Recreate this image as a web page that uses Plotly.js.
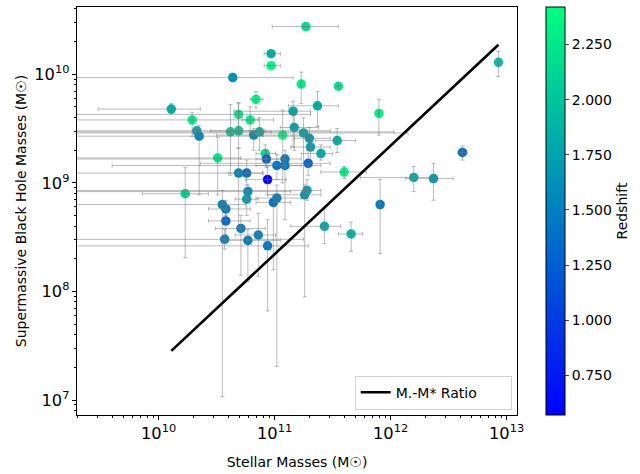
<!DOCTYPE html>
<html>
<head>
<meta charset="utf-8">
<script src="https://cdn.plot.ly/plotly-3.0.1.min.js"></script>
<style>html,body{margin:0;padding:0;background:#fff}#chart{width:640px;height:474px}</style>
</head>
<body>
<div id="chart"></div>
<script>
// log10 stellar masses (Msun)
const logStellarMass = [11.27,10.97,10.97,10.64,11.23,11.55,10.84,10.11,11.37,10.69,
  10.29,10.79,11.16,11.17,10.33,10.35,10.62,10.69,10.82,10.87,
  11.07,11.25,11.30,11.31,11.54,11.40,10.51,10.92,10.93,11.02,
  11.09,11.09,11.29,11.60,12.20,12.37,12.62,12.93,10.69,10.76,
  10.94,10.23,10.77,10.76,10.99,11.02,11.26,11.28,11.91,10.55,
  10.58,10.58,10.71,10.57,10.77,10.86,10.94,11.43,11.66,11.90];
// log10 black hole masses (Msun)
const logBHMass = [10.44,10.19,10.08,9.97,9.91,9.89,9.77,9.68,9.71,9.63,
  9.58,9.58,9.66,9.51,9.48,9.43,9.47,9.48,9.44,9.47,
  9.44,9.46,9.41,9.33,9.39,9.27,9.23,9.27,9.22,9.16,
  9.22,9.16,9.18,9.10,9.05,9.04,9.28,10.11,9.09,9.09,
  9.03,8.90,8.92,8.85,8.82,8.86,8.89,8.93,8.80,8.80,
  8.76,8.65,8.58,8.48,8.47,8.52,8.42,8.60,8.53,9.64];
const redshift = [2.15,1.85,2.35,1.60,2.30,2.20,2.35,1.85,1.85,2.25,
  2.30,2.30,1.80,1.75,1.80,1.55,2.10,2.05,1.60,1.90,
  2.42,1.80,1.70,1.75,1.85,1.80,2.25,2.20,1.30,1.35,
  1.45,1.45,1.30,2.35,1.85,1.70,1.40,1.95,1.55,1.40,
  0.57,2.10,1.60,1.75,1.35,1.50,1.70,1.75,1.45,1.55,
  1.50,1.30,1.50,1.55,1.50,1.55,1.45,1.85,1.90,2.30];
// error bounds (log10)
const logStellarLow = [10.98,10.91,10.91,9.0,11.23,11.55,10.79,9.48,11.12,9.0,
  9.0,10.72,10.65,11.05,9.0,9.0,9.0,10.45,10.50,10.79,
  10.90,9.0,11.17,11.14,11.35,11.23,9.0,10.84,9.0,9.60,
  10.84,10.84,10.36,11.40,11.74,12.13,12.58,12.93,10.60,9.0,
  10.75,9.86,9.0,10.66,10.84,10.84,10.94,9.0,11.91,9.0,
  10.43,10.43,10.49,9.0,10.58,10.66,9.0,11.14,11.55,11.90];
const logStellarHigh = [11.55,11.05,11.05,11.16,11.23,11.55,10.90,10.36,11.55,11.31,
  10.99,10.86,11.31,11.38,11.48,11.31,12.03,10.92,10.90,10.97,
  11.23,12.15,11.48,11.48,11.70,11.50,10.71,11.01,11.08,11.40,
  11.23,11.23,11.48,11.79,12.35,12.54,12.66,12.93,10.90,10.90,
  11.10,10.43,11.14,10.86,11.14,11.23,11.40,11.40,11.91,10.75,
  10.79,10.79,10.92,11.25,11.05,11.01,11.29,11.57,11.76,11.90];
const logBHLow = [10.44,10.19,10.08,9.97,9.73,9.89,9.69,9.64,9.52,9.52,
  9.43,9.48,9.33,9.30,9.48,8.89,9.07,9.32,9.30,9.30,
  9.00,8.93,9.30,9.21,9.28,9.21,8.89,9.16,9.14,9.03,
  9.14,8.66,9.07,9.04,8.92,8.84,9.21,9.98,8.59,8.98,
  8.89,8.31,8.84,8.70,8.20,7.31,7.95,8.84,8.35,7.03,
  8.70,8.52,8.15,8.39,8.09,8.14,7.82,8.44,8.37,9.44];
const logBHHigh = [10.44,10.19,10.08,9.97,10.02,9.89,9.84,9.73,9.84,9.73,
  9.65,9.70,9.75,9.62,9.48,9.53,9.72,9.74,9.50,9.60,
  9.67,9.60,9.51,9.39,9.50,9.35,9.42,9.35,9.30,9.26,
  9.30,9.26,9.30,9.15,9.15,9.18,9.34,10.21,9.32,9.21,
  9.15,9.14,8.98,8.93,8.89,8.98,8.98,9.03,9.03,8.93,
  8.84,8.75,8.70,8.57,8.57,8.72,8.66,8.77,8.64,9.77];
const bhToStellarRatio = 0.0022;
const redshiftTicks = [0.75,1.0,1.25,1.5,1.75,2.0,2.25];

const p = v => Math.pow(10, v);
const xs = logStellarMass.map(p), ys = logBHMass.map(p);
const exPlus = logStellarHigh.map((v,i)=>p(v)-xs[i]);
const exMinus = logStellarLow.map((v,i)=>xs[i]-p(v));
const eyPlus = logBHHigh.map((v,i)=>p(v)-ys[i]);
const eyMinus = logBHLow.map((v,i)=>ys[i]-p(v));
const lineX = [Math.min(...xs), Math.max(...xs)];
const lineY = lineX.map(v=>v*bhToStellarRatio);

const font = {family:'DejaVu Sans, sans-serif', size:14, color:'#000'};
const tickFont = {family:'DejaVu Sans, sans-serif', size:13, color:'#000'};
const errStyle = {color:'rgba(120,120,120,0.5)', thickness:1, width:2};

const traces = [
  {x:xs, y:ys, type:'scatter', mode:'markers', showlegend:false, hoverinfo:'skip',
   marker:{size:9.5, color:redshift,
     colorscale:[[0,'rgb(0,0,255)'],[1,'rgb(0,255,128)']],
     colorbar:{thickness:19, len:1, lenmode:'fraction', y:0.5, yanchor:'middle', ypad:0,
       x:1.066, xanchor:'left', xpad:0, outlinecolor:'#000', outlinewidth:1,
       tickvals:redshiftTicks, tickformat:'.3f', ticks:'outside', ticklen:4, tickwidth:1,
       tickfont:font, title:{text:'Redshift', side:'right', font:font}}}},
  {x:xs, y:ys, type:'scatter', mode:'markers', showlegend:false, hoverinfo:'skip',
   marker:{size:9, opacity:0},
   error_x:Object.assign({type:'data', symmetric:false, array:exPlus, arrayminus:exMinus}, errStyle),
   error_y:Object.assign({type:'data', symmetric:false, array:eyPlus, arrayminus:eyMinus}, errStyle)},
  {x:lineX, y:lineY, type:'scatter', mode:'lines', name:'M.-M* Ratio',
   line:{color:'#000', width:2.6}}
];

const axisCommon = {type:'log', showgrid:false, zeroline:false, showline:true, mirror:true,
  linecolor:'#000', linewidth:1, ticks:'outside', ticklen:4, tickwidth:1, tickcolor:'#000',
  dtick:1, exponentformat:'power', tickfont:tickFont,
  minor:{ticks:'outside', ticklen:2, tickwidth:1, tickcolor:'#000', dtick:'D1', showgrid:false}};

const layout = {
  width:640, height:474, paper_bgcolor:'#fff', plot_bgcolor:'#fff', font:font,
  margin:{l:77, r:123, t:7, b:59},
  xaxis:Object.assign({}, axisCommon, {range:[9.297,13.09],
    title:{text:'Stellar Masses (M☉)', font:font, standoff:15}}),
  yaxis:Object.assign({}, axisCommon, {range:[6.862,10.62],
    title:{text:'Supermassive Black Hole Masses (M☉)', font:font, standoff:4}}),
  legend:{x:0.988, xanchor:'right', y:0.013, yanchor:'bottom', bgcolor:'rgba(255,255,255,0.8)',
    bordercolor:'#d0d0d0', borderwidth:1, font:font, orientation:'h',
    entrywidth:110, entrywidthmode:'pixels'},
  showlegend:true
};

Plotly.newPlot('chart', traces, layout, {staticPlot:true, displayModeBar:false});
</script>
</body>
</html>
